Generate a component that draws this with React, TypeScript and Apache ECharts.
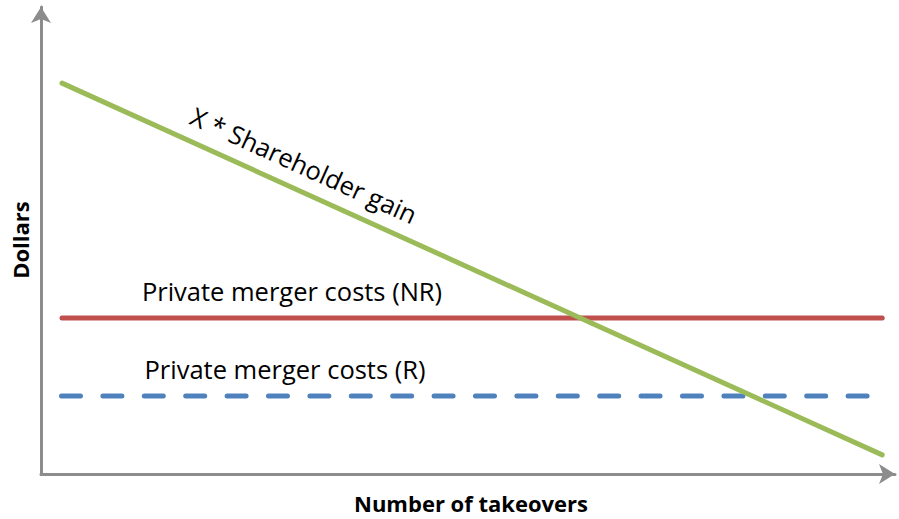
import React, { useEffect, useRef } from "react";
import * as echarts from "echarts";

const gainX = [2.46, 98.5];
const gainY = [83.7, 4.1];
const nrX = [2.46, 98.5];
const nrY = [33.4, 33.4];
const rX = [2.4, 97.2];
const rY = [16.7, 16.7];
const labels = {
  gain: "X * Shareholder gain",
  nr: "Private merger costs (NR)",
  r: "Private merger costs (R)",
  xName: "Number of takeovers",
  yName: "Dollars",
};

const FAMILY = "Open Sans";

export default function App() {
  const ref = useRef<HTMLDivElement>(null);
  useEffect(() => {
    const chart = echarts.init(ref.current!, undefined, { renderer: "svg" });
    const pair = (xs: number[], ys: number[]) => xs.map((x, i) => [x, ys[i]]);
    const axisLine = {
      show: true,
      symbol: ["none", "arrow"],
      symbolSize: [15, 16],
      lineStyle: { color: "#8c8c8c", width: 3 },
    };
    const txt = (text: string, x: number, y: number, size: number, bold = false, rotation = 0) => ({
      type: "text",
      x,
      y,
      rotation,
      style: {
        text,
        fontFamily: FAMILY,
        fontSize: size,
        fontWeight: bold ? "bold" : "normal",
        fill: "#000",
        textAlign: "center",
        textVerticalAlign: "middle",
      },
    });
    chart.setOption({
      animation: false,
      backgroundColor: "#ffffff",
      grid: { left: 41, right: 4, top: 7, bottom: 45 },
      xAxis: {
        type: "value",
        min: 0,
        max: 100,
        axisLine,
        axisTick: { show: false },
        axisLabel: { show: false },
        splitLine: { show: false },
      },
      yAxis: {
        type: "value",
        min: 0,
        max: 100,
        axisLine,
        axisTick: { show: false },
        axisLabel: { show: false },
        splitLine: { show: false },
      },
      series: [
        {
          type: "line",
          data: pair(nrX, nrY),
          symbol: "none",
          lineStyle: { color: "#C0504D", width: 5, cap: "round" },
        },
        {
          type: "line",
          data: pair(rX, rY),
          symbol: "none",
          lineStyle: { color: "#4F81BD", width: 5, type: [19, 22.4], cap: "round" },
        },
        {
          type: "line",
          data: pair(gainX, gainY),
          symbol: "none",
          lineStyle: { color: "#9BBB59", width: 5, cap: "round" },
        },
      ],
      graphic: [
        txt(labels.gain, 304, 165, 25.5, false, -0.426),
        txt(labels.nr, 292, 291, 25.5),
        txt(labels.r, 285, 369, 25.5),
        txt(labels.xName, 471, 503, 22, true),
        txt(labels.yName, 20, 240, 22, true, Math.PI / 2),
      ],
    });
    return () => chart.dispose();
  }, []);
  return (
    <div
      ref={ref}
      style={{ position: "fixed", left: 0, top: 0, width: 899, height: 519 }}
    />
  );
}
